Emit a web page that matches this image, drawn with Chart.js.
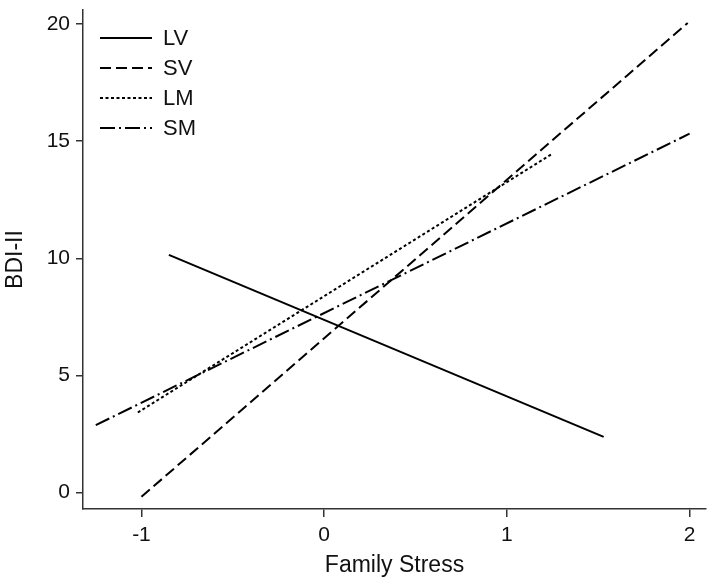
<!DOCTYPE html>
<html>
<head>
<meta charset="utf-8">
<script src="https://cdn.jsdelivr.net/npm/chart.js@4"></script>
<style>
  html, body { margin: 0; padding: 0; background: #fff; }
  #wrap { width: 709px; height: 583px; }
</style>
</head>
<body>
<div id="wrap"><canvas id="chart" width="709" height="583"></canvas></div>
<script>
// series names and their end points (family stress, BDI-II)
let seriesNames = ["LV", "SV", "LM", "SM"];
let lvX = [-0.85, 1.53];
let lvY = [10.15, 2.38];
let svX = [-1.0, 1.99];
let svY = [-0.18, 20.05];
let lmX = [-1.02, 1.25];
let lmY = [3.42, 14.47];
let smX = [-1.25, 2.0];
let smY = [2.88, 15.32];
let xTicks = [-1, 0, 1, 2];
let yTicks = [0, 5, 10, 15, 20];

let fontFamily = "'Liberation Sans', Arial, sans-serif";
let ink = "#111";

function toPoints(xs, ys) {
  return xs.map(function (x, i) {
    return { x: x, y: ys[i] };
  });
}

let dashes = [[], [11, 5], [3, 2.5], [15, 4, 2, 4]];
let pointSets = [toPoints(lvX, lvY), toPoints(svX, svY), toPoints(lmX, lmY), toPoints(smX, smY)];

let datasets = seriesNames.map(function (name, i) {
  return {
    label: name,
    data: pointSets[i],
    borderColor: "#000",
    borderWidth: 2,
    borderDash: dashes[i],
    pointRadius: 0,
    fill: false,
    tension: 0,
  };
});

// legend drawn inside the plot, one row per series
let lineLegend = {
  id: "lineLegend",
  afterDatasetsDraw(chart) {
    let ctx = chart.ctx;
    ctx.save();
    ctx.font = "22px " + fontFamily;
    ctx.textBaseline = "middle";
    ctx.fillStyle = ink;
    chart.data.datasets.forEach(function (ds, i) {
      let y = 38 + i * 30;
      ctx.strokeStyle = "#000";
      ctx.lineWidth = 2;
      ctx.setLineDash(ds.borderDash);
      ctx.beginPath();
      ctx.moveTo(100, y);
      ctx.lineTo(152, y);
      ctx.stroke();
      ctx.setLineDash([]);
      ctx.fillText(ds.label, 163, y + 1);
    });
    ctx.restore();
  },
};

let ctx = document.getElementById("chart").getContext("2d");
let chart = new Chart(ctx, {
  type: "line",
  data: { datasets: datasets },
  plugins: [lineLegend],
  options: {
    responsive: false,
    animation: false,
    layout: { padding: { top: 10, right: 3, left: 0, bottom: 0 } },
    plugins: {
      legend: { display: false },
      tooltip: { enabled: false },
    },
    scales: {
      x: {
        type: "linear",
        min: -1.32,
        max: 2.09,
        afterFit(scale) {
          scale.height = 74;
          scale.paddingLeft = 0;
          scale.paddingRight = 0;
        },
        afterBuildTicks(scale) {
          scale.ticks = xTicks.map(function (v) {
            return { value: v };
          });
        },
        grid: {
          display: true,
          drawOnChartArea: false,
          drawTicks: true,
          tickLength: 8,
          color: "#333",
          lineWidth: 1.5,
        },
        border: { display: true, color: "#333", width: 1.5 },
        ticks: {
          color: ink,
          font: { family: fontFamily, size: 21 },
          padding: 6,
          maxRotation: 0,
        },
        title: {
          display: true,
          text: "Family Stress",
          color: ink,
          font: { family: fontFamily, size: 23 },
          padding: { top: 0, bottom: 4 },
        },
      },
      y: {
        type: "linear",
        min: -0.7,
        max: 20.6,
        afterFit(scale) {
          scale.width = 83;
          scale.paddingTop = 0;
          scale.paddingBottom = 0;
        },
        afterBuildTicks(scale) {
          scale.ticks = yTicks.map(function (v) {
            return { value: v };
          });
        },
        grid: {
          display: true,
          drawOnChartArea: false,
          drawTicks: true,
          tickLength: 7,
          color: "#333",
          lineWidth: 1.5,
        },
        border: { display: true, color: "#333", width: 1.5 },
        ticks: {
          color: ink,
          font: { family: fontFamily, size: 21 },
          padding: 6,
        },
        title: {
          display: true,
          text: "BDI-II",
          color: ink,
          font: { family: fontFamily, size: 23 },
          padding: { top: 2, bottom: 0 },
        },
      },
    },
  },
});
</script>
</body>
</html>
